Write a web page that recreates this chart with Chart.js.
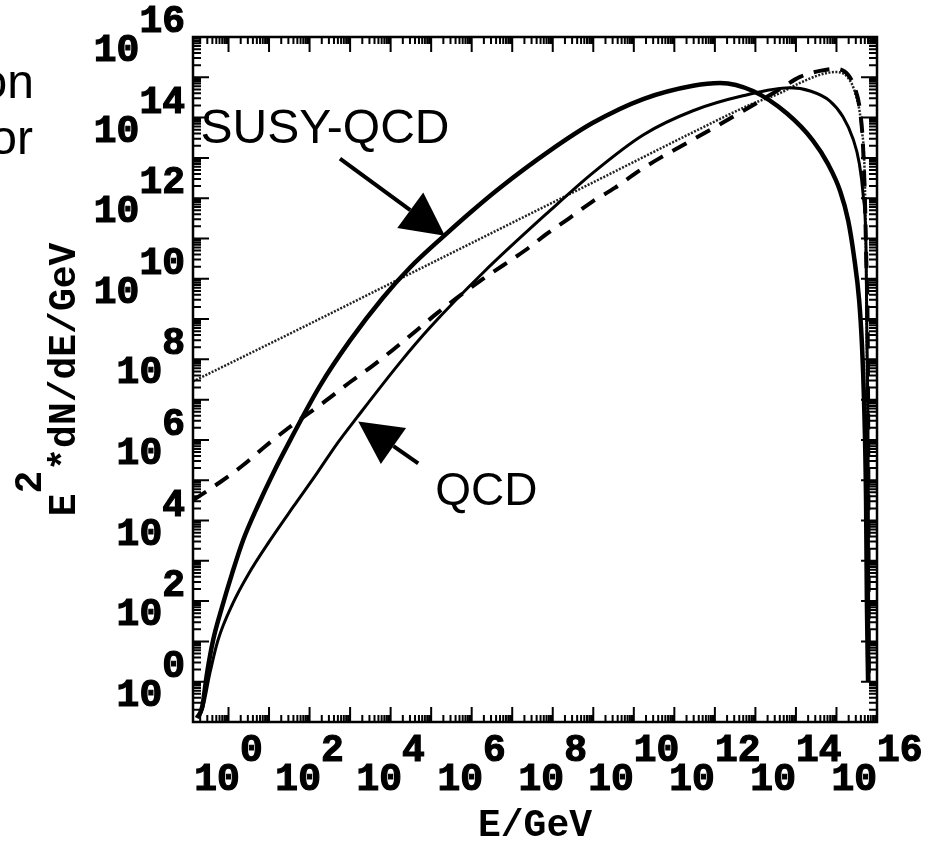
<!DOCTYPE html>
<html>
<head>
<meta charset="utf-8">
<script src="https://cdn.jsdelivr.net/npm/chart.js@4.4.1/dist/chart.umd.min.js"></script>
<style>
  html, body { margin: 0; padding: 0; background: #fff; }
  #wrap { width: 941px; height: 845px; }
</style>
</head>
<body>
<div id="wrap"><canvas id="c" width="941" height="845"></canvas></div>
<script>
// Spectra E^2 dN/dE versus E, stored as log10(E/GeV) and log10(E^2 dN/dE / GeV)

// SUSY-QCD (thick solid)
const susyLogE = [-0.78, -0.65, -0.53, -0.38, -0.16, 0.09, 0.36, 0.73, 1.10, 1.52, 2.26, 3.00,
  3.81, 4.48, 5.29, 5.96, 6.70, 7.93, 8.99, 10.23, 11.46, 12.13, 12.94, 13.78, 14.42, 14.79,
  15.09, 15.29, 15.43, 15.56, 15.63, 15.68, 15.73, 15.75, 15.78];
const susyLogFlux = [-0.90, -0.63, 0.21, 1.03, 1.85, 2.69, 3.51, 4.38, 5.17, 5.99, 7.35, 8.47,
  9.53, 10.28, 11.04, 11.64, 12.26, 13.18, 13.87, 14.46, 14.79, 14.86, 14.66, 14.10, 13.43, 12.85,
  12.18, 11.44, 10.57, 9.46, 8.34, 6.98, 4.50, 2.02, 0.00];

// QCD (thin solid)
const qcdLogE = [-0.73, -0.63, -0.46, -0.26, 0.11, 0.48, 1.02, 1.59, 2.18, 2.68, 3.17, 4.23,
  4.97, 6.28, 7.93, 8.99, 10.23, 11.46, 12.69, 13.85, 14.35, 14.84, 15.16, 15.41, 15.56, 15.66,
  15.73, 15.75, 15.78, 15.80];
const qcdLogFlux = [-0.90, -0.63, 0.21, 1.03, 1.95, 2.65, 3.50, 4.33, 5.17, 5.91, 6.56, 7.92,
  8.79, 10.15, 11.69, 12.63, 13.57, 14.17, 14.54, 14.74, 14.66, 14.41, 14.02, 13.47, 12.88, 12.06,
  10.70, 8.71, 5.74, 0.00];

// dashed spectrum
const dashedLogE = [-0.88, -0.21, 0.38, 0.88, 1.47, 2.41, 3.02, 3.57, 4.06, 4.63, 5.14, 6.21,
  6.77, 7.34, 7.86, 8.43, 8.97, 9.54, 10.10, 10.65, 11.31, 11.93, 12.57, 13.11, 13.61, 14.10,
  14.59, 14.96, 15.29, 15.46, 15.58, 15.66, 15.73, 15.78, 15.80];
const dashedLogFlux = [4.50, 4.95, 5.39, 5.82, 6.29, 6.98, 7.45, 7.85, 8.24, 8.71, 9.14, 9.95,
  10.33, 10.72, 11.12, 11.52, 11.91, 12.26, 12.66, 13.00, 13.37, 13.72, 14.09, 14.41, 14.71, 15.01,
  15.16, 15.21, 15.06, 14.71, 14.17, 13.18, 10.70, 6.98, 0.00];

// dotted spectrum
const dottedLogE = [-0.88, 1.76, 4.23, 6.70, 9.17, 11.63, 12.87, 13.61, 14.10, 14.59, 14.96,
  15.29, 15.48, 15.61, 15.71, 15.75, 15.80];
const dottedLogFlux = [7.45, 8.76, 10.00, 11.24, 12.48, 13.72, 14.32, 14.61, 14.86, 15.06, 15.13,
  14.98, 14.54, 13.80, 11.94, 8.22, 0.00];

// labelled decades on each axis
const xTickExponents = [0, 2, 4, 6, 8, 10, 12, 14, 16];
const yTickExponents = [0, 2, 4, 6, 8, 10, 12, 14, 16];

const monoFont = "'Liberation Mono', 'Courier New', monospace";
const sansFont = "'Liberation Sans', Arial, Helvetica, sans-serif";

const toPoints = (logE, logF) => logE.map((e, i) => ({ x: Math.pow(10, e), y: Math.pow(10, logF[i]) }));

// "10" with the exponent on the line above, one character to the right
function powerLabel(exps) {
  return function (value) {
    const e = Math.round(Math.log10(value));
    if (!exps.includes(e)) return '';
    const s = String(e);
    return ['  ' + s, '10' + ' '.repeat(s.length)];
  };
}

function decadeTicks(scale) {
  const lo = Math.ceil(Math.log10(scale.min) - 1e-9);
  const hi = Math.floor(Math.log10(scale.max) + 1e-9);
  const t = [];
  for (let d = lo; d <= hi; d++) t.push({ value: Math.pow(10, d) });
  scale.ticks = t;
}

// closed frame with inward log ticks on all four sides
const frameTicks = {
  id: 'frameTicks',
  afterDatasetsDraw(chart) {
    const { ctx, chartArea: a, scales: { x, y } } = chart;
    ctx.save();
    ctx.strokeStyle = '#000';
    ctx.lineWidth = 2;
    ctx.beginPath();
    const seg = (x1, y1, x2, y2) => { ctx.moveTo(x1, y1); ctx.lineTo(x2, y2); };
    const each = (scale, fn) => {
      const lo = Math.floor(Math.log10(scale.min));
      const hi = Math.ceil(Math.log10(scale.max));
      for (let d = lo; d <= hi; d++) {
        for (let m = 1; m <= 9; m++) {
          const v = m * Math.pow(10, d);
          if (v < scale.min * 0.999 || v > scale.max * 1.001) continue;
          fn(scale.getPixelForValue(v), m === 1);
        }
      }
    };
    each(x, (px, major) => {
      const len = major ? 15 : 7;
      seg(px, a.bottom, px, a.bottom - len);
      seg(px, a.top, px, a.top + len);
    });
    each(y, (py, major) => {
      const len = major ? 16 : 8;
      seg(a.left, py, a.left + len, py);
      seg(a.right, py, a.right - len, py);
    });
    ctx.stroke();
    ctx.lineWidth = 2.5;
    ctx.strokeRect(a.left, a.top, a.right - a.left, a.bottom - a.top);
    ctx.restore();
  }
};

// arrows and curve names, placed in (log E, log flux) coordinates
const annotations = {
  id: 'annotations',
  afterDatasetsDraw(chart) {
    const { ctx, scales: { x, y } } = chart;
    const P = (le, lf) => [x.getPixelForValue(Math.pow(10, le)), y.getPixelForValue(Math.pow(10, lf))];
    const arrow = (from, to) => {
      const [x1, y1] = P(from[0], from[1]);
      const [x2, y2] = P(to[0], to[1]);
      const ang = Math.atan2(y2 - y1, x2 - x1);
      const hl = 43, hw = 22;
      const bx = x2 - hl * Math.cos(ang), by = y2 - hl * Math.sin(ang);
      ctx.save();
      ctx.strokeStyle = '#000';
      ctx.fillStyle = '#000';
      ctx.lineWidth = 4;
      ctx.beginPath(); ctx.moveTo(x1, y1); ctx.lineTo(bx, by); ctx.stroke();
      ctx.beginPath();
      ctx.moveTo(x2, y2);
      ctx.lineTo(bx + hw * Math.sin(ang), by - hw * Math.cos(ang));
      ctx.lineTo(bx - hw * Math.sin(ang), by + hw * Math.cos(ang));
      ctx.closePath(); ctx.fill();
      ctx.restore();
    };
    arrow([2.75, 12.98], [5.34, 11.07]);
    arrow([4.68, 5.42], [3.20, 6.46]);

    ctx.save();
    ctx.fillStyle = '#000';
    ctx.textAlign = 'left';
    ctx.textBaseline = 'alphabetic';
    ctx.font = '48px ' + sansFont;
    let [tx, ty] = P(-0.69, 13.37);
    ctx.fillText('SUSY-QCD', tx, ty);
    ctx.font = '46px ' + sansFont;
    [tx, ty] = P(5.10, 4.38);
    ctx.fillText('QCD', tx, ty);
    ctx.restore();
  }
};

// text fragments running in from the left page margin
const marginText = {
  id: 'marginText',
  afterDraw(chart) {
    const ctx = chart.ctx;
    ctx.save();
    ctx.fillStyle = '#000';
    ctx.font = '48px ' + sansFont;
    ctx.textAlign = 'right';
    ctx.textBaseline = 'alphabetic';
    ctx.fillText('on', 34, 98);
    ctx.fillText('or', 33, 154);
    ctx.restore();
  }
};

const axisFont = { family: monoFont, size: 38, weight: 'bold', lineHeight: 29 / 38 };

new Chart(document.getElementById('c'), {
  type: 'line',
  data: {
    datasets: [
      { label: 'SUSY-QCD', data: toPoints(susyLogE, susyLogFlux), borderColor: '#000', borderWidth: 4.5 },
      { label: 'QCD', data: toPoints(qcdLogE, qcdLogFlux), borderColor: '#000', borderWidth: 3 },
      { label: 'dashed', data: toPoints(dashedLogE, dashedLogFlux), borderColor: '#000', borderWidth: 4, borderDash: [16, 11] },
      { label: 'dotted', data: toPoints(dottedLogE, dottedLogFlux), borderColor: '#222', borderWidth: 2.5, borderDash: [2, 1.5] }
    ]
  },
  options: {
    responsive: false,
    animation: false,
    devicePixelRatio: 1,
    layout: { padding: { top: 36, right: 64, left: 0, bottom: 0 } },
    elements: {
      point: { radius: 0 },
      line: { cubicInterpolationMode: 'monotone', fill: false }
    },
    plugins: { legend: { display: false }, tooltip: { enabled: false } },
    scales: {
      x: {
        type: 'logarithmic',
        min: Math.pow(10, -0.876),
        max: 1e16,
        afterBuildTicks: decadeTicks,
        afterFit(s) { s.height = 123; },
        grid: { display: false, drawTicks: false },
        border: { display: false },
        ticks: {
          autoSkip: false, maxRotation: 0, minRotation: 0, padding: 14.5,
          color: '#000', textStrokeColor: '#000', textStrokeWidth: 1.2,
          font: axisFont, callback: powerLabel(xTickExponents)
        },
        title: {
          display: true, text: 'E/GeV', color: '#000',
          font: { family: monoFont, size: 38, weight: 'bold', lineHeight: 1 },
          padding: { top: 0, bottom: 0 }
        }
      },
      y: {
        type: 'logarithmic',
        min: 0.1,
        max: 1e16,
        afterBuildTicks: decadeTicks,
        afterFit(s) { s.width = 193; },
        grid: { display: false, drawTicks: false },
        border: { display: false },
        ticks: {
          autoSkip: false, padding: 8,
          color: '#000', textStrokeColor: '#000', textStrokeWidth: 1.2,
          font: axisFont, callback: powerLabel(yTickExponents)
        },
        title: {
          display: true, text: [' 2          ', 'E *dN/dE/GeV'], color: '#000',
          font: { family: monoFont, size: 38, weight: 'bold', lineHeight: 34 / 38 },
          padding: { top: 14, bottom: 0 }
        }
      }
    }
  },
  plugins: [frameTicks, annotations, marginText]
});
</script>
</body>
</html>
